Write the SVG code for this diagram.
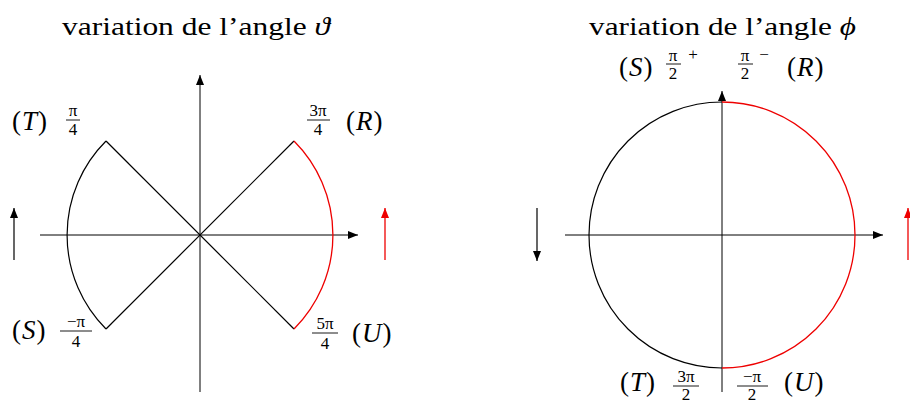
<svg xmlns="http://www.w3.org/2000/svg" width="910" height="403" viewBox="0 0 910 403">
<style>
text{font-family:"Liberation Serif","DejaVu Serif",serif;fill:#000}
.t{font-size:26px}
.l{font-size:27px;letter-spacing:1px}
.f{font-size:17px;text-anchor:middle}
.i{font-style:italic}
.ax{stroke:#000;stroke-width:1;fill:none}
.bk{stroke:#000;stroke-width:1.2;fill:none}
.rd{stroke:#e00;stroke-width:1.3;fill:none}
.bar{stroke:#000;stroke-width:0.9}
</style>
<defs>
<marker id="ab" markerUnits="userSpaceOnUse" markerWidth="12" markerHeight="10" refX="10" refY="4" orient="auto">
<path d="M0,0 L10,4 L0,8 Z" fill="#000"/>
</marker>
<marker id="ar" markerUnits="userSpaceOnUse" markerWidth="12" markerHeight="10" refX="10" refY="4" orient="auto">
<path d="M0,0 L10,4 L0,8 Z" fill="#e00"/>
</marker>
</defs>

<g id="titles">
<text class="t" x="62" y="35" textLength="268" lengthAdjust="spacingAndGlyphs">variation de l’angle <tspan class="i">ϑ</tspan></text>
<text class="t" x="589" y="35" textLength="267" lengthAdjust="spacingAndGlyphs">variation de l’angle <tspan class="i">ϕ</tspan></text>
</g>

<g id="connectors">
<line class="ax" x1="40" y1="235" x2="358" y2="235" marker-end="url(#ab)"/>
<line class="ax" x1="200" y1="392" x2="200" y2="75" marker-end="url(#ab)"/>
<line class="bk" x1="106" y1="141" x2="294" y2="329"/>
<line class="bk" x1="106" y1="329" x2="294" y2="141"/>
<path class="bk" d="M106,141 A133,133 0 0 0 106,329"/>
<path class="rd" d="M294,141 A133,133 0 0 1 294,329"/>
<line class="bk" x1="14" y1="260" x2="14" y2="208" marker-end="url(#ab)"/>
<line class="rd" x1="385" y1="260" x2="385" y2="208" marker-end="url(#ar)"/>

<line class="ax" x1="565" y1="235" x2="883" y2="235" marker-end="url(#ab)"/>
<line class="ax" x1="722" y1="392" x2="722" y2="91" marker-end="url(#ab)"/>
<path class="bk" d="M722,102 A133,133 0 0 0 722,368"/>
<path class="rd" d="M722,102 A133,133 0 0 1 722,368"/>
<line class="bk" x1="537" y1="208" x2="537" y2="261" marker-end="url(#ab)"/>
<line class="rd" x1="908" y1="260" x2="908" y2="208" marker-end="url(#ar)"/>
</g>

<g id="label-T-left">
<text class="l" x="12" y="130">(<tspan class="i">T</tspan>)</text>
<text class="f" x="73" y="116">π</text>
<line class="bar" x1="66" y1="120" x2="80" y2="120"/>
<text class="f" x="73" y="135">4</text>
</g>
<g id="label-R-left">
<text class="f" x="318" y="116">3π</text>
<line class="bar" x1="307" y1="120" x2="330" y2="120"/>
<text class="f" x="318" y="135">4</text>
<text class="l" x="346" y="130">(<tspan class="i">R</tspan>)</text>
</g>
<g id="label-S-left">
<text class="l" x="12" y="339">(<tspan class="i">S</tspan>)</text>
<text class="f" x="76" y="327">−π</text>
<line class="bar" x1="60" y1="331" x2="92" y2="331"/>
<text class="f" x="76" y="347">4</text>
</g>
<g id="label-U-left">
<text class="f" x="325" y="329">5π</text>
<line class="bar" x1="312" y1="333" x2="338" y2="333"/>
<text class="f" x="325" y="349">4</text>
<text class="l" x="352" y="342">(<tspan class="i">U</tspan>)</text>
</g>

<g id="label-S-right">
<text class="l" x="619" y="76">(<tspan class="i">S</tspan>)</text>
<text class="f" x="673" y="61">π</text>
<line class="bar" x1="666" y1="64" x2="681" y2="64"/>
<text class="f" x="673" y="79">2</text>
<text class="f" x="693" y="60">+</text>
</g>
<g id="label-R-right">
<text class="f" x="745" y="61">π</text>
<line class="bar" x1="738" y1="64" x2="753" y2="64"/>
<text class="f" x="745" y="79">2</text>
<text class="f" x="764" y="60">−</text>
<text class="l" x="787" y="76">(<tspan class="i">R</tspan>)</text>
</g>
<g id="label-T-right">
<text class="l" x="620" y="391">(<tspan class="i">T</tspan>)</text>
<text class="f" x="686" y="382">3π</text>
<line class="bar" x1="673" y1="386" x2="699" y2="386"/>
<text class="f" x="686" y="400">2</text>
</g>
<g id="label-U-right">
<text class="f" x="752" y="382">−π</text>
<line class="bar" x1="737" y1="386" x2="768" y2="386"/>
<text class="f" x="752" y="400">2</text>
<text class="l" x="784" y="391">(<tspan class="i">U</tspan>)</text>
</g>
</svg>
